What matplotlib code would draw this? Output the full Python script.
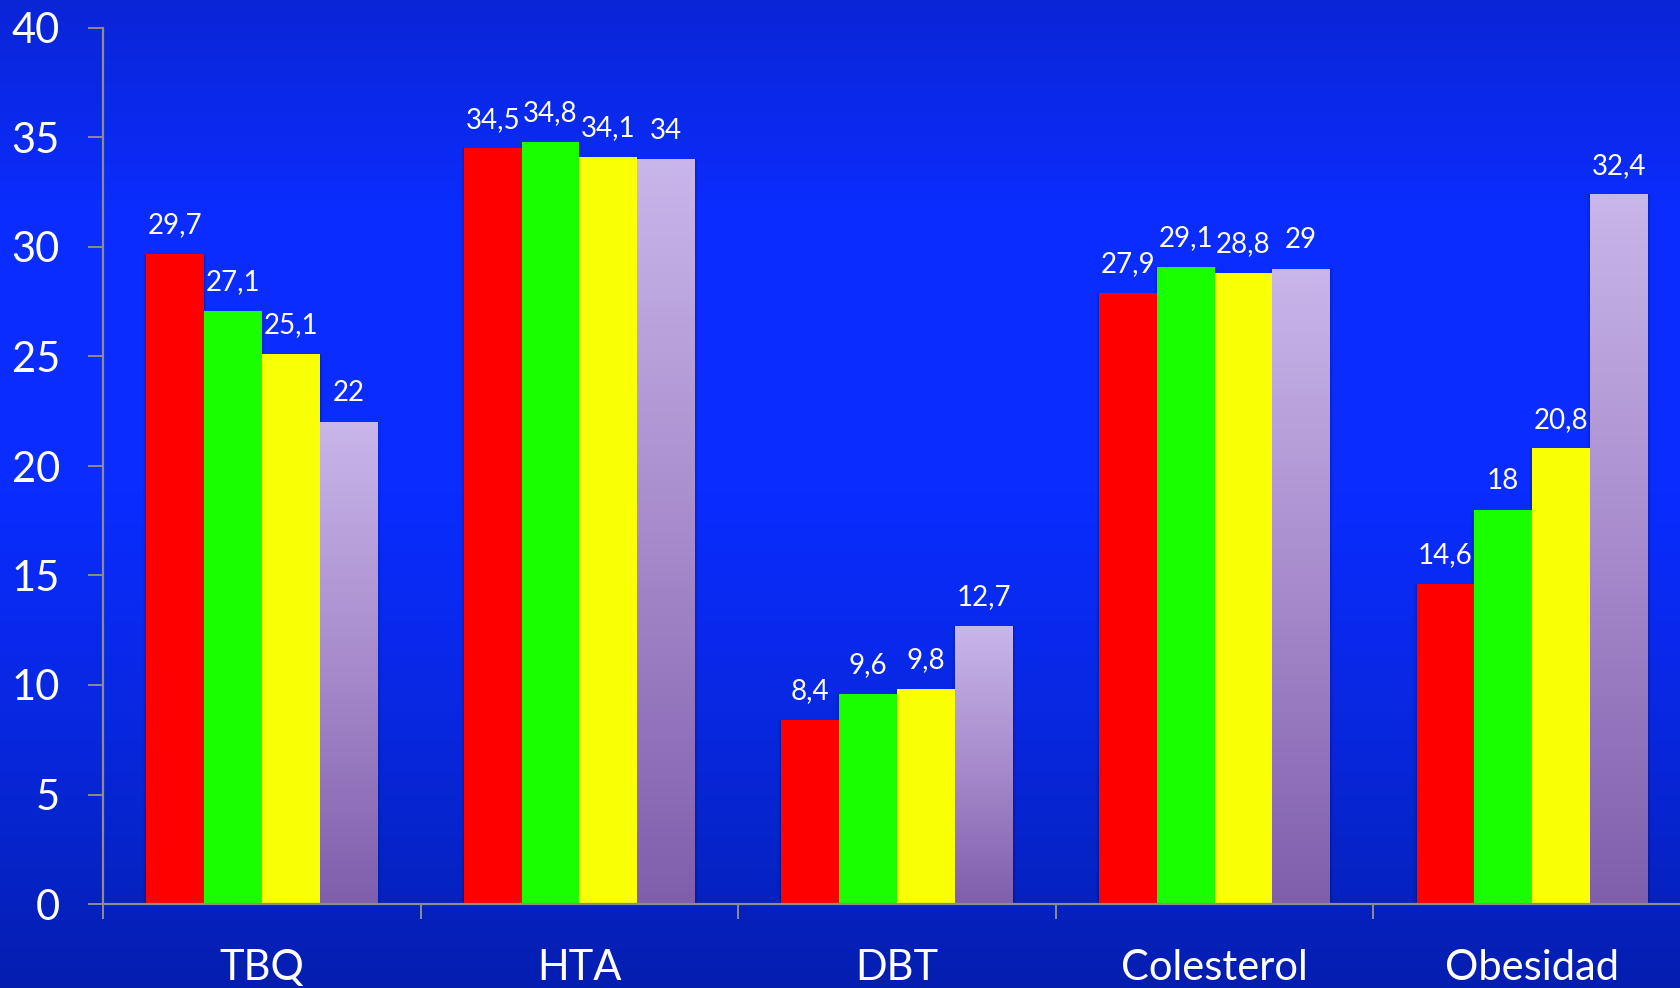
import numpy as np
import matplotlib.pyplot as plt
from matplotlib.colors import LinearSegmentedColormap
from matplotlib.patches import Rectangle
from matplotlib import transforms

categories = ['TBQ', 'HTA', 'DBT', 'Colesterol', 'Obesidad']
serie_1 = [29.7, 34.5, 8.4, 27.9, 14.6]
serie_2 = [27.1, 34.8, 9.6, 29.1, 18.0]
serie_3 = [25.1, 34.1, 9.8, 28.8, 20.8]
serie_4 = [22.0, 34.0, 12.7, 29.0, 32.4]
yticks = [0, 5, 10, 15, 20, 25, 30, 35, 40]

FONT = ['Lato', 'DejaVu Sans']
W, H, DPI = 1680, 988, 100


def fmt(v):
    return f"{v:g}".replace('.', ',')


fig = plt.figure(figsize=(W / DPI, H / DPI), dpi=DPI)

# blue slide background, vertical gradient
bg = fig.add_axes([0, 0, 1, 1], zorder=-10)
bg_cmap = LinearSegmentedColormap.from_list('bg', [
    (0.0, '#0A25D6'), (0.22, '#0B2DFF'), (0.5, '#0A2CFF'),
    (0.72, '#0828E2'), (0.88, '#0623C6'), (1.0, '#051EB0')])
bg.imshow(np.linspace(0, 1, 256).reshape(-1, 1), aspect='auto', cmap=bg_cmap,
          extent=[0, 1, 1, 0])
bg.set_axis_off()

# plot area: y=0 at 904px, y=40 at 28px, one category every ~317.6px
ax = fig.add_axes([103 / W, (H - 904) / H, 5 * 317.6 / W, (904 - 28) / H])
ax.set_facecolor('none')
ax.set_xlim(-0.5, 4.5)
ax.set_ylim(0, 40)

bw = 0.182
x = np.arange(len(categories))
series = [serie_1, serie_2, serie_3, serie_4]
solid = [(serie_1, '#FF0000'), (serie_2, '#19FF00'), (serie_3, '#F9FF05')]
lilac = LinearSegmentedColormap.from_list('lilac', ['#7F5EAC', '#A78BCC', '#C9B6EA'])
grad = np.linspace(0, 1, 256).reshape(-1, 1)

# faint shadow at the sides of each bar
for i, vals in enumerate(series):
    for xi, v in zip(x + (i - 1.5) * bw, vals):
        for k, a in zip([0.010, 0.006, 0.003], [0.04, 0.05, 0.07]):
            ax.add_patch(Rectangle((xi - bw / 2 - k, 0), bw + 2 * k, v,
                                   color='black', alpha=a, lw=0, zorder=1))

for i, (vals, col) in enumerate(solid):
    xs = x + (i - 1.5) * bw
    ax.bar(xs, vals, width=bw, color=col, edgecolor='none', zorder=2)
    for xi, v in zip(xs, vals):
        ax.annotate(fmt(v), (xi, v), xytext=(0, 15), textcoords='offset points',
                    ha='center', va='baseline', color='white', fontsize=20,
                    family=FONT, zorder=5)

# lilac bars with a top-to-bottom gradient
xs = x + 1.5 * bw
bars = ax.bar(xs, serie_4, width=bw, color='none', edgecolor='none', zorder=2)
for b, xi, v in zip(bars, xs, serie_4):
    im = ax.imshow(grad, aspect='auto', cmap=lilac, origin='lower',
                   extent=[xi - bw / 2, xi + bw / 2, 0, v], zorder=2)
    im.set_clip_path(b)
    ax.annotate(fmt(v), (xi, v), xytext=(0, 15), textcoords='offset points',
                ha='center', va='baseline', color='white', fontsize=20,
                family=FONT, zorder=5)
ax.set_xlim(-0.5, 4.5)
ax.set_ylim(0, 40)

for s in ['top', 'right']:
    ax.spines[s].set_visible(False)
for s in ['left', 'bottom']:
    ax.spines[s].set_color('#8C8C8C')
    ax.spines[s].set_linewidth(1.6)
    ax.spines[s].set_zorder(4)

ax.set_yticks(yticks)
ax.set_yticklabels([str(t) for t in yticks], family=FONT, fontsize=30, color='white')
ax.tick_params(axis='y', length=11, width=1.4, color='#8C8C8C', pad=20)

ax.set_xticks(np.arange(-0.5, 5.0, 1.0))
ax.set_xticklabels([])
ax.tick_params(axis='x', length=11, width=1.4, color='#8C8C8C')

trans = transforms.blended_transform_factory(ax.transData, ax.transAxes)
for xi, name in zip(x, categories):
    ax.text(xi, -76 / 876, name, transform=trans, ha='center', va='baseline',
            color='white', fontsize=30, family=FONT)

fig.savefig('out.png', dpi=DPI)
